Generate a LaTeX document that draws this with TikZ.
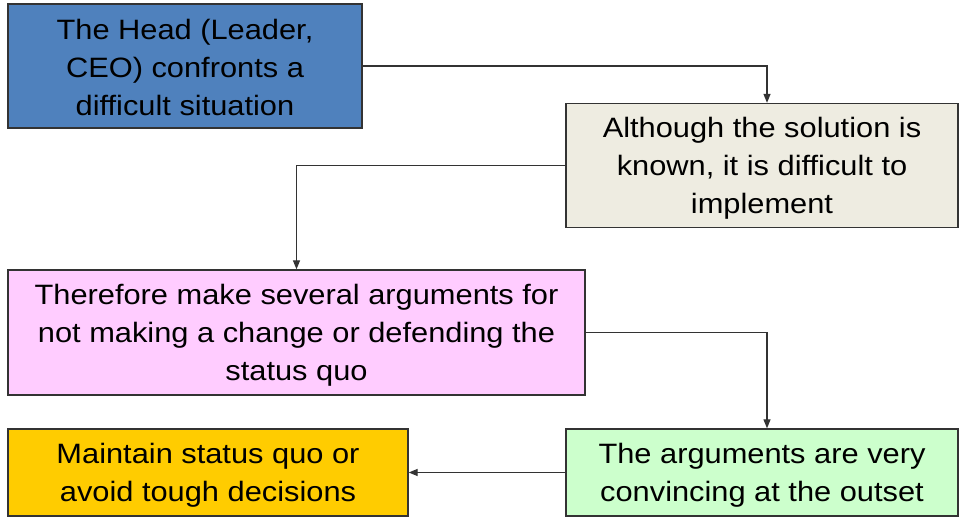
\documentclass[tikz,border=0pt]{standalone}
\usepackage{fontspec}
\setmainfont[FakeStretch=1.1]{Liberation Sans}
\usetikzlibrary{arrows.meta}
\definecolor{cblue}{HTML}{4F81BD}
\definecolor{cbeige}{HTML}{EEECE1}
\definecolor{cpink}{HTML}{FFCCFF}
\definecolor{corange}{HTML}{FFCC00}
\definecolor{cgreen}{HTML}{CCFFCC}
\definecolor{cline}{HTML}{333333}
\begin{document}
\begin{tikzpicture}[x=1pt,y=-1pt,
  box/.style={draw=cline, line width=1.3pt, rectangle, inner sep=0pt},
  txt/.style={align=center, inner sep=0pt, font=\fontsize{28}{38}\selectfont, text=black},
  conn/.style={draw=cline, line width=1.2pt, -{Triangle[length=9pt,width=7pt]}}]
\useasboundingbox (0,0) rectangle (960,518);
\node[box, fill=cblue, minimum width=354pt, minimum height=124pt] (b1) at (185,66) {};
\node[txt] (t1) at ([yshift=-1pt]b1.center)
  {The Head (Leader,\\CEO) confronts a\\difficult situation};
\node[box, fill=cbeige, minimum width=392pt, minimum height=124pt] (b2) at (762,165.5) {};
\node[txt] (t2) at ([yshift=-3pt]b2.center)
  {Although the solution is\\known, it is difficult to\\implement};
\node[box, fill=cpink, minimum width=577pt, minimum height=125pt] (b3) at (296.5,332.5) {};
\node[txt] (t3) at ([yshift=-3pt]b3.center)
  {Therefore make several arguments for\\not making a change or defending the\\status quo};
\node[box, fill=corange, minimum width=400pt, minimum height=87pt] (b4) at (208,472.5) {};
\node[txt] (t4) at ([yshift=-3pt]b4.center)
  {Maintain status quo or\\avoid tough decisions};
\node[box, fill=cgreen, minimum width=392pt, minimum height=87pt] (b5) at (762,472.5) {};
\node[txt] (t5) at ([yshift=-3pt]b5.center)
  {The arguments are very\\convincing at the outset};
\draw[conn] (b1.east) -| ([xshift=5pt]b2.north);
\draw[conn] (b2.west) -| (b3.north);
\draw[conn] (b3.east) -| ([xshift=5pt]b5.north);
\draw[conn] (b5.west) -- (b4.east);
\end{tikzpicture}
\end{document}
